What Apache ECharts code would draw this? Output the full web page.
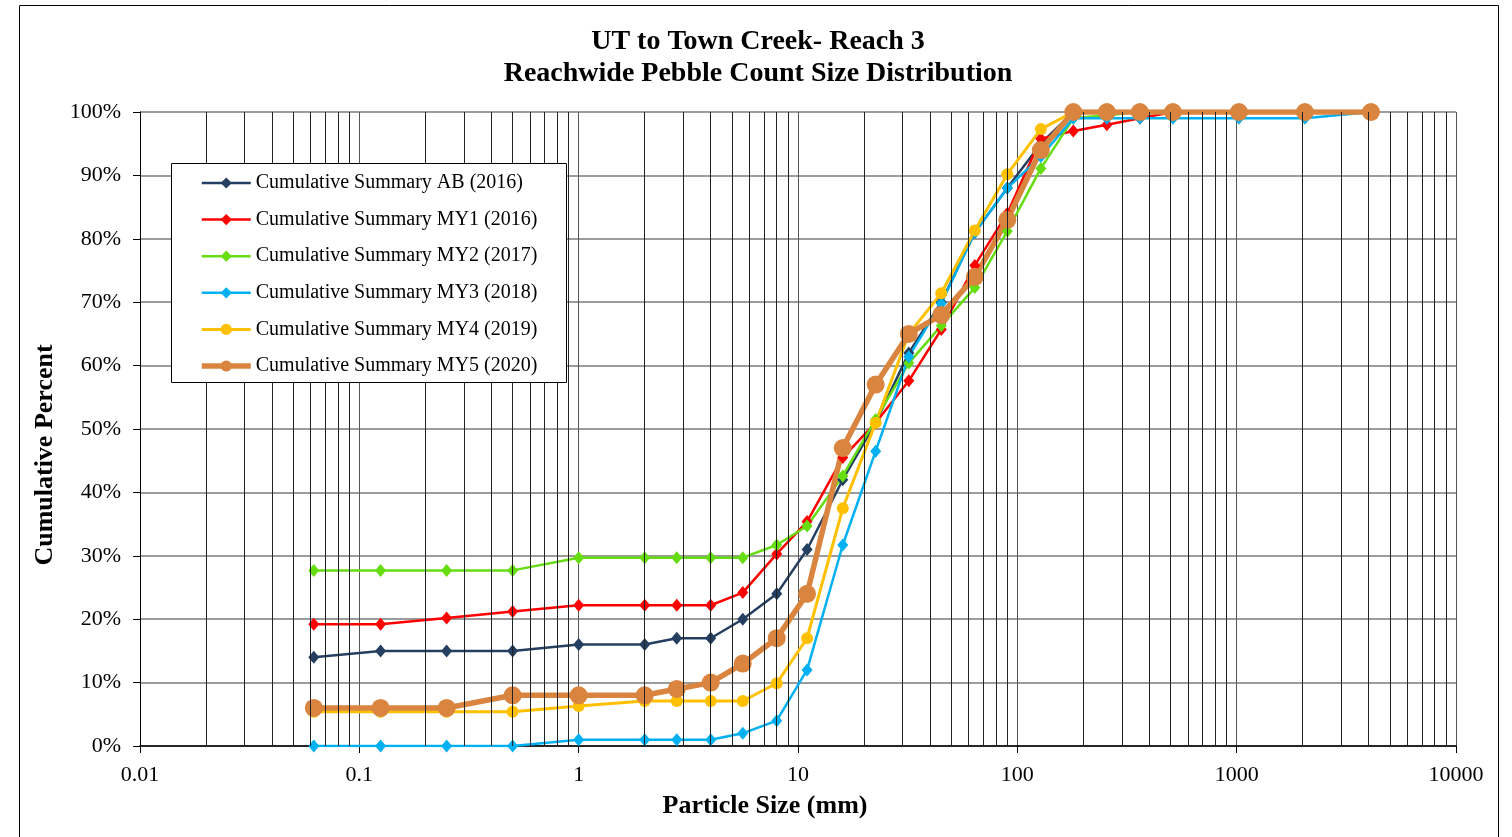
<!DOCTYPE html>
<html>
<head>
<meta charset="utf-8">
<script src="https://cdn.jsdelivr.net/npm/echarts@6/dist/echarts.min.js"></script>
<style>
  html, body { margin: 0; padding: 0; background: #fff; }
  #chart { width: 1512px; height: 837px; }
</style>
</head>
<body>
<div id="chart"></div>
<script>
// particle sizes (mm)
const sizes = [0.062, 0.125, 0.25, 0.5, 1, 2, 2.8, 4, 5.6, 8, 11, 16, 22.6, 32, 45, 64, 90, 128, 180, 256, 362, 512, 1024, 2048, 4096];

// cumulative percent for each survey
const ab2016  = [14, 15, 15, 15, 16, 16, 17, 17, 20, 24, 31, 42, 51, 62, 70, 81, 88, 95, 100, 100, 100, 100, 100, 100, 100];
const my12016 = [19.2, 19.2, 20.2, 21.2, 22.2, 22.2, 22.2, 22.2, 24.2, 30.3, 35.4, 45.5, 51, 57.6, 65.7, 75.8, 84, 95.8, 97, 98, 99, 100, 100, 100, 100];
const my22017 = [27.7, 27.7, 27.7, 27.7, 29.7, 29.7, 29.7, 29.7, 29.7, 31.7, 34.7, 42.6, 51.5, 60.4, 66.3, 72.3, 81.2, 91.1, 99, 99.5, 100, 100, 100, 100, 100];
const my32018 = [0, 0, 0, 0, 1, 1, 1, 1, 2, 4, 12, 31.7, 46.5, 61.4, 69.8, 81, 88, 93, 99, 99, 99, 99, 99, 99, 100];
const my42019 = [5.4, 5.4, 5.4, 5.4, 6.3, 7.1, 7.1, 7.1, 7.1, 9.9, 17, 37.5, 51, 65, 71.4, 81.3, 90.2, 97.3, 100, 100, 100, 100, 100, 100, 100];
const my52020 = [6, 6, 6, 8, 8, 8, 9, 10, 13, 17, 24, 47, 57, 65, 68, 74, 83, 94, 100, 100, 100, 100, 100, 100, 100];

const xTicks = [0.01, 0.1, 1, 10, 100, 1000, 10000];

const serif = '"Liberation Serif", "Times New Roman", serif';

function pairs(vals) {
  return sizes.map((s, i) => [s, vals[i]]);
}

// minor vertical grid lines at 2..9 of every decade
const minorLines = [];
for (let d = 0; d < xTicks.length - 1; d++) {
  for (let m = 2; m <= 9; m++) {
    minorLines.push({ xAxis: +(xTicks[d] * m).toPrecision(3) });
  }
}

function lineSeries(name, vals, color, symbol, size, width) {
  return {
    name: name,
    type: 'line',
    data: pairs(vals),
    symbol: symbol,
    symbolSize: size,
    showAllSymbol: true,
    lineStyle: { color: color, width: width },
    itemStyle: { color: color },
    emphasis: { disabled: true }
  };
}

const chart = echarts.init(document.getElementById('chart'));
chart.setOption({
  animation: false,
  backgroundColor: '#fff',
  textStyle: { fontFamily: serif },
  grid: { left: 140, right: 56, top: 112, bottom: 91 },
  legend: {
    orient: 'vertical',
    z: 60,
    left: 171,
    top: 164,
    padding: [9, 29, 7, 28],
    itemWidth: 49,
    itemHeight: 14,
    itemGap: 16.6,
    lineStyle: { width: 'inherit' },
    textStyle: { fontFamily: serif, fontSize: 20, color: '#000' },
    data: ['Cumulative Summary AB (2016)', 'Cumulative Summary MY1 (2016)', 'Cumulative Summary MY2 (2017)',
           'Cumulative Summary MY3 (2018)', 'Cumulative Summary MY4 (2019)', 'Cumulative Summary MY5 (2020)']
  },
  xAxis: {
    type: 'log',
    logBase: 10,
    min: 0.01,
    max: 10000,
    axisLine: { lineStyle: { color: '#000', width: 1.5 } },
    axisTick: { show: true, length: 7, lineStyle: { color: '#000' } },
    axisLabel: {
      fontFamily: serif, fontSize: 22, color: '#000', margin: 18,
      formatter: v => String(+v.toPrecision(3))
    },
    splitLine: { show: true, lineStyle: { color: '#555', width: 1 } }
  },
  yAxis: {
    type: 'value',
    min: 0,
    max: 100,
    interval: 10,
    axisLine: { show: true, lineStyle: { color: '#000', width: 1 } },
    axisTick: { show: true, length: 7, lineStyle: { color: '#000' } },
    axisLabel: { fontFamily: serif, fontSize: 22, color: '#000', margin: 19, formatter: '{value}%' },
    splitLine: { show: true, lineStyle: { color: '#7a7a7a', width: 1.5 } }
  },
  graphic: [
    { type: 'rect', z: -10, silent: true,
      shape: { x: 19.5, y: 5.5, width: 1479, height: 900 },
      style: { fill: 'none', stroke: '#000', lineWidth: 1 } },
    // legend box
    { type: 'rect', z: 50, silent: true,
      shape: { x: 171.5, y: 163.5, width: 395, height: 219 },
      style: { fill: '#fff', stroke: '#000', lineWidth: 1 } },
    { type: 'text', x: 758, y: 42, silent: true,
      style: { text: 'UT to Town Creek- Reach 3', font: 'bold 28px ' + serif, fill: '#000', align: 'center', verticalAlign: 'middle' } },
    { type: 'text', x: 758, y: 74, silent: true,
      style: { text: 'Reachwide Pebble Count Size Distribution', font: 'bold 28px ' + serif, fill: '#000', align: 'center', verticalAlign: 'middle' } },
    { type: 'text', x: 765, y: 806, silent: true,
      style: { text: 'Particle Size (mm)', font: 'bold 26px ' + serif, fill: '#000', align: 'center', verticalAlign: 'middle' } },
    { type: 'text', x: 45, y: 455, rotation: Math.PI / 2, silent: true,
      style: { text: 'Cumulative Percent', font: 'bold 26px ' + serif, fill: '#000', align: 'center', verticalAlign: 'middle' } }
  ],
  series: [
    {
      type: 'line', data: [], silent: true,
      markLine: {
        silent: true, symbol: 'none', label: { show: false },
        lineStyle: { color: '#222', width: 1, type: 'solid' },
        data: minorLines
      }
    },
    lineSeries('Cumulative Summary AB (2016)', ab2016, '#243F60', 'diamond', [11, 13], 2.5),
    lineSeries('Cumulative Summary MY1 (2016)', my12016, '#FF0000', 'diamond', [11, 13], 2.5),
    lineSeries('Cumulative Summary MY2 (2017)', my22017, '#66DD11', 'diamond', [11, 13], 2.5),
    lineSeries('Cumulative Summary MY3 (2018)', my32018, '#00B0F0', 'diamond', [11, 13], 2.5),
    lineSeries('Cumulative Summary MY4 (2019)', my42019, '#FFC000', 'circle', 12, 3),
    lineSeries('Cumulative Summary MY5 (2020)', my52020, '#D9843F', 'circle', 18, 5.5)
  ]
});
</script>
</body>
</html>
